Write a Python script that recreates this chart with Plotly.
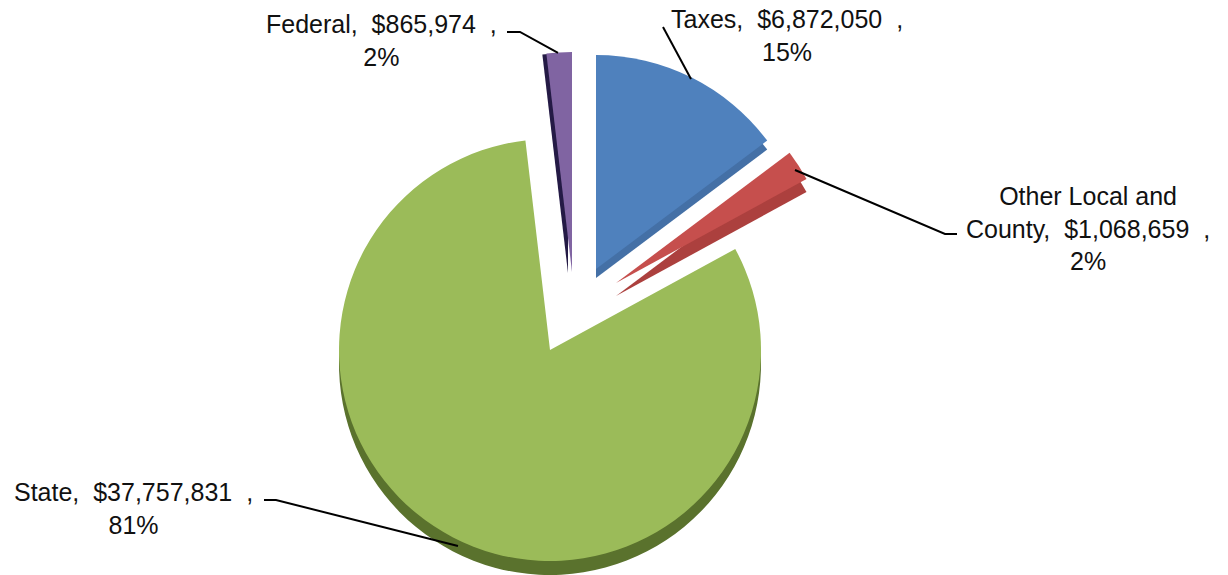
import plotly.graph_objects as go

WIDTH, HEIGHT = 1228, 575

# Funding sources, clockwise from twelve o'clock
sources = ["Taxes", "Other Local and County", "State", "Federal"]
amounts = [6872050, 1068659, 37757831, 865974]
shares = [15, 2, 81, 2]

face_colors = ["#4F81BD", "#C64F4D", "#9BBB59", "#8064A2"]
edge_colors = ["#4470A6", "#AC403E", "#5A722D", "#241A45"]

# Exploded wedge geometry in pixels: apex x, apex y, radius, edge offset x, edge offset y
wedges = [
    (596, 269, 214, 0, 9),
    (616, 283, 217, 0, 13),
    (550, 350, 211, 0, 14),
    (572, 272, 220, -4, 1),
]

CLEAR = "rgba(0,0,0,0)"


def circle_domain(cx, cy, r):
    return dict(
        x=[max(0, (cx - r) / WIDTH), min(1, (cx + r) / WIDTH)],
        y=[max(0, 1 - (cy + r) / HEIGHT), min(1, 1 - (cy - r) / HEIGHT)],
    )


def wedge_trace(cx, cy, r, colors):
    return go.Pie(
        labels=sources,
        values=amounts,
        sort=False,
        direction="clockwise",
        rotation=0,
        textinfo="none",
        hoverinfo="label+value+percent",
        showlegend=False,
        domain=circle_domain(cx, cy, r),
        marker=dict(colors=colors, line=dict(width=0)),
    )


def only(index, color, rest=CLEAR):
    return [color if i == index else rest for i in range(len(sources))]


fig = go.Figure()

# Large slice first: its lower rim, then white to keep the notch clean
big = sources.index("State")
cx, cy, r, dx, dy = wedges[big]
fig.add_trace(wedge_trace(cx + dx, cy + dy, r, only(big, edge_colors[big])))
fig.add_trace(wedge_trace(cx, cy, r, only(big, CLEAR, rest="#FFFFFF")))
fig.add_trace(wedge_trace(cx, cy, r, only(big, face_colors[big])))

# Remaining slices sit on top, each with its own rim
for i, (cx, cy, r, dx, dy) in enumerate(wedges):
    if i == big:
        continue
    fig.add_trace(wedge_trace(cx + dx, cy + dy, r, only(i, edge_colors[i])))
    fig.add_trace(wedge_trace(cx, cy, r, only(i, face_colors[i])))

# Label text built from the data
NB = "\u00a0"


def label_text(i):
    name = sources[i]
    if name == "Other Local and County":
        name = f"Other{NB}Local{NB}and<br>County"
    return f"{name},{NB}{NB}${amounts[i]:,}{NB}{NB},<br>{shares[i]}%"


# Label centre x and y in pixels, in data order
label_positions = [(787, 36), (1088, 228), (133, 508), (381, 40)]

annotations = [
    dict(
        text=label_text(i),
        x=x / WIDTH,
        y=1 - y / HEIGHT,
        xref="paper",
        yref="paper",
        xanchor="center",
        yanchor="middle",
        align="center",
        showarrow=False,
        font=dict(family="Liberation Sans", size=25, color="#111111"),
    )
    for i, (x, y) in enumerate(label_positions)
]

# Leader polylines from each label to its slice
leaders = [
    [(663, 27), (691, 79)],
    [(795, 170), (945, 234), (957, 234)],
    [(264, 500), (276, 500), (458, 546)],
    [(507, 32), (520, 32), (558, 53)],
]


def leader_path(points):
    parts = [f"{x / WIDTH:.5f} {1 - y / HEIGHT:.5f}" for x, y in points]
    return "M " + " L ".join(parts)


shapes = [
    dict(
        type="path",
        path=leader_path(points),
        xref="paper",
        yref="paper",
        line=dict(color="#000000", width=2),
    )
    for points in leaders
]

fig.update_layout(
    width=WIDTH,
    height=HEIGHT,
    margin=dict(l=0, r=0, t=0, b=0),
    paper_bgcolor="#FFFFFF",
    annotations=annotations,
    shapes=shapes,
)

fig.write_html("out.html", config=dict(displayModeBar=False))
